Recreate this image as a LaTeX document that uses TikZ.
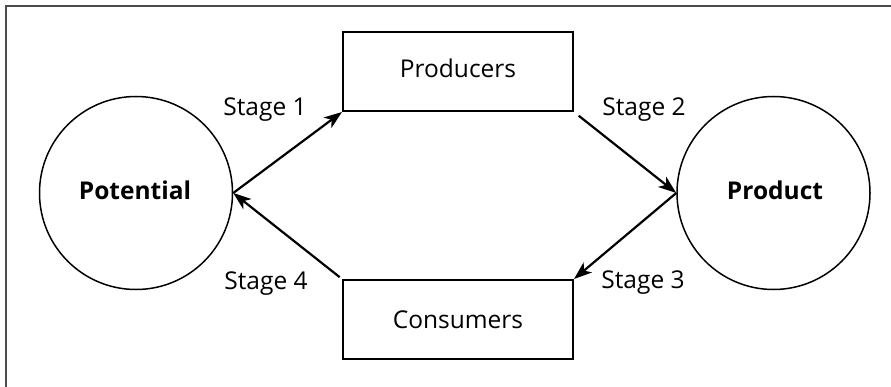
\documentclass[tikz,border=0pt]{standalone}
\usepackage{fontspec}
\setmainfont{Open Sans}
\usetikzlibrary{arrows.meta}
\begin{document}
\begin{tikzpicture}[x=1pt,y=-1pt,
  every node/.style={font=\fontsize{24.5}{28}\selectfont},
  stagebox/.style={draw,line width=2pt,minimum width=230pt,minimum height=79pt,inner sep=0pt},
  pool/.style={draw,circle,line width=1.5pt,minimum size=193pt,inner sep=0pt},
  flow/.style={line width=2.2pt,-{Stealth[length=18pt,width=13pt,inset=5pt]}},
  stagelabel/.style={anchor=base}
]
\useasboundingbox (0,0) rectangle (891,387);
\clip (0,0) rectangle (891,387);
% outer frame
\draw[line width=2pt,black!70] (5.5,6.5) rectangle (920,420);

% pools and stages
\node[pool] (pot) at (136,193) {};
\node[font=\fontsize{24.5}{28}\selectfont\bfseries,anchor=base] (potl) at (135,200) {Potential};
\node[pool] (prod) at (773.5,193) {};
\node[font=\fontsize{24.5}{28}\selectfont\bfseries,anchor=base] (prodl) at (775,200) {Product};

\node[stagebox] (pr) at (458,71.5) {};
\node[anchor=base] (prl) at (458,78) {Producers};
\node[stagebox] (co) at (458,319.5) {};
\node[anchor=base] (col) at (458,328) {Consumers};

% flows
\draw[flow] (pot.east) -- (pr.south west);
\draw[flow,shorten <=6pt] (pr.south east) -- (prod.west);
\draw[flow] (prod.west) -- (co.north east);
\draw[flow,shorten <=3pt] (co.north west) -- (pot.east);

% stage labels
\node[stagelabel] (s1) at (265,116) {Stage 1};
\node[stagelabel] (s2) at (644,116) {Stage 2};
\node[stagelabel] (s3) at (643,288) {Stage 3};
\node[stagelabel] (s4) at (266,289) {Stage 4};
\end{tikzpicture}
\end{document}
